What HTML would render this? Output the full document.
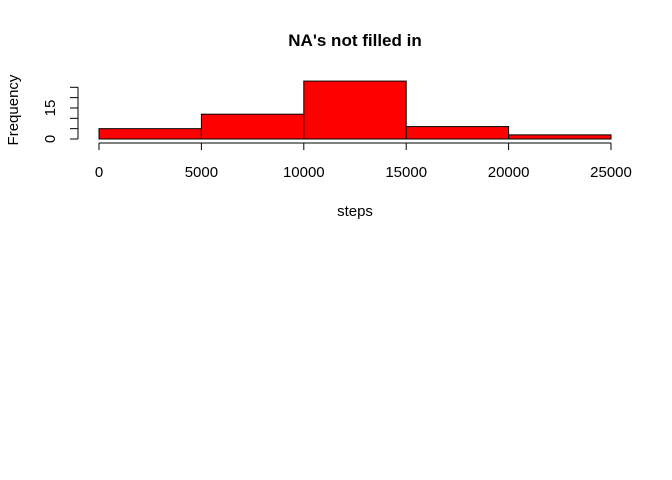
<!DOCTYPE html>
<html><head><meta charset="utf-8"><style>
body{margin:0;background:#fff}
svg{display:block;font-family:"Liberation Sans",Arial,sans-serif}
</style></head><body>
<svg id="chart" width="672" height="480">
<rect width="672" height="480" fill="#fff"/>
<text x="355" y="46" text-anchor="middle" font-weight="bold" font-size="17">NA's not filled in</text>
<text x="355" y="216" text-anchor="middle" font-size="15">steps</text>
<text transform="translate(18,110) rotate(-90)" text-anchor="middle" font-size="15">Frequency</text>
<g id="bars"></g><g id="xaxis"></g><g id="yaxis"></g>
</svg>
<script>
const breaks=[0,5000,10000,15000,20000,25000];
const counts=[5,12,28,6,2];
const xTicks=[0,5000,10000,15000,20000,25000];
const yTicks=[0,5,10,15,20,25];
const yLabels=[0,15];
const NS='http://www.w3.org/2000/svg';
const X=v=>99+(v-0)*(611-99)/25000;
const Y=v=>139-v*(139-87.3)/25;
function mk(t,a,p){const e=document.createElementNS(NS,t);for(const k in a)e.setAttribute(k,a[k]);p.appendChild(e);return e;}
const bars=document.getElementById('bars');
counts.forEach((c,i)=>{
 const r=mk('rect',{x:X(breaks[i]),y:Y(c),width:X(breaks[i+1])-X(breaks[i]),height:Y(0)-Y(c),fill:'#ff0000',stroke:'#000','stroke-width':1},bars);
 
 
});
const xa=document.getElementById('xaxis');
const xl=mk('line',{x1:X(xTicks[0]),x2:X(xTicks[xTicks.length-1]),y1:143,y2:143,stroke:'#000'},xa);


xTicks.forEach(v=>{
 mk('line',{x1:X(v),x2:X(v),y1:143,y2:150,stroke:'#000'},xa);
 const t=mk('text',{x:X(v),y:177,'text-anchor':'middle','font-size':15},xa);
 t.textContent=v;
 
 
});
const ya=document.getElementById('yaxis');
const yl=mk('line',{x1:78,x2:78,y1:Y(yTicks[0]),y2:Y(yTicks[yTicks.length-1]),stroke:'#000'},ya);


yTicks.forEach(v=>mk('line',{x1:70,x2:78,y1:Y(v),y2:Y(v),stroke:'#000'},ya));
yLabels.forEach(v=>{
 const t=mk('text',{transform:`translate(55,${Y(v)}) rotate(-90)`,'text-anchor':'middle','font-size':15},ya);
 t.textContent=v;
 
 
});
</script>
</body></html>
